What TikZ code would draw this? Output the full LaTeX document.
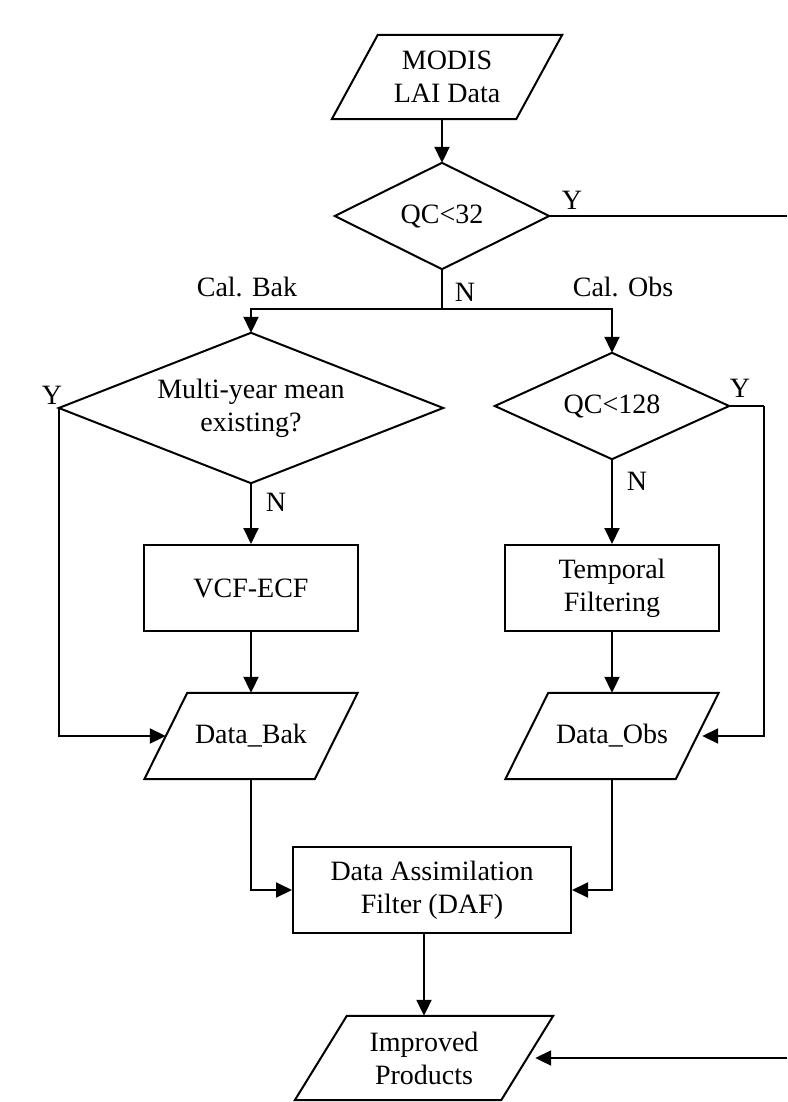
\documentclass[tikz,border=0pt]{standalone}
\usepackage{fontspec}
\setmainfont{Liberation Serif}
\usetikzlibrary{arrows.meta,calc}
\newcommand\fs{\fontsize{28}{33}\selectfont}
\newcommand\drawpara[2]{\draw[ln] ([xshift=#2]#1.north west) -- ([xshift=#2]#1.north east) -- ([xshift=-#2]#1.south east) -- ([xshift=-#2]#1.south west) -- cycle;}
\newcommand\drawdiam[1]{\draw[ln] (#1.north) -- (#1.east) -- (#1.south) -- (#1.west) -- cycle;}
\tikzset{
  base/.style={font=\fs, align=center, inner sep=0pt, rectangle},
  box/.style={base, draw, line width=2pt},
  ln/.style={line width=2pt},
  arr/.style={ln, -{Triangle[length=16pt,width=15pt]}},
  lbl/.style={font=\fs, inner sep=0pt}
}
\begin{document}
\begin{tikzpicture}[x=1pt,y=-1pt]
\useasboundingbox (0,0) rectangle (787,1102);
% nodes
\node[base, minimum width=184pt, minimum height=84pt] (modis) at (447,77) {MODIS\\LAI Data};
\drawpara{modis}{23pt}
\node[base, minimum width=214pt, minimum height=106pt] (qc32) at (442,216) {QC<32};
\drawdiam{qc32}
\node[base, minimum width=384pt, minimum height=150pt] (multi) at (251,408) {Multi-year mean\\existing?};
\drawdiam{multi}
\node[base, minimum width=234pt, minimum height=106pt] (qc128) at (612,406) {QC<128};
\drawdiam{qc128}
\node[box, minimum width=214pt, minimum height=86pt] (vcf) at (251,588) {VCF-ECF};
\node[box, minimum width=214pt, minimum height=86pt] (temp) at (612,588) {Temporal\\Filtering};
\node[base, minimum width=170pt, minimum height=86pt] (bak) at (251,736) {Data\_Bak};
\drawpara{bak}{21.5pt}
\node[base, minimum width=170pt, minimum height=86pt] (obs) at (612,736) {Data\_Obs};
\drawpara{obs}{21.5pt}
\node[box, minimum width=278pt, minimum height=86pt] (daf) at (432,890) {Data Assimilation\\Filter (DAF)};
\node[base, minimum width=206pt, minimum height=84pt] (ip) at (424,1058) {Improved\\Products};
\drawpara{ip}{26pt}
% helper coordinates
\coordinate (split) at (442,309);
\coordinate (redge1) at (787,216);
\coordinate (redge2) at (787,1058);
\coordinate (rturn) at (764,406);
% connectors
\draw[arr] (qc32.north |- modis.south) -- (qc32.north);
\draw[ln] (qc32.east) -- (redge1);
\draw[ln] (qc32.south) -- (split);
\draw[arr] (split) -| (multi.north);
\draw[arr] (split) -| (qc128.north);
\draw[arr] (multi.west) |- (bak.west);
\draw[arr] (multi.south) -- (vcf.north);
\draw[arr] (vcf.south) -- (bak.north);
\draw[arr] (qc128.south) -- (temp.north);
\draw[arr] (temp.south) -- (obs.north);
\draw[ln] (qc128.east) -- (rturn);
\draw[arr, shorten >=5pt] (rturn) |- (obs.east);
\draw[arr] (bak.south) |- (daf.west);
\draw[arr] (obs.south) |- (daf.east);
\draw[arr] (ip.north |- daf.south) -- (ip.north);
\draw[arr, shorten >=8pt] (redge2) -- (ip.east);
% labels
\node[lbl] (y1) at (572,200) {Y};
\node[lbl] (n1) at (465,292) {N};
\node[lbl] (calbak) at (247,287) {Cal. Bak};
\node[lbl] (calobs) at (623,287) {Cal. Obs};
\node[lbl] (y2) at (52,395) {Y};
\node[lbl] (n2) at (276,502) {N};
\node[lbl] (y3) at (740,388) {Y};
\node[lbl] (n3) at (637,481) {N};
\end{tikzpicture}
\end{document}
